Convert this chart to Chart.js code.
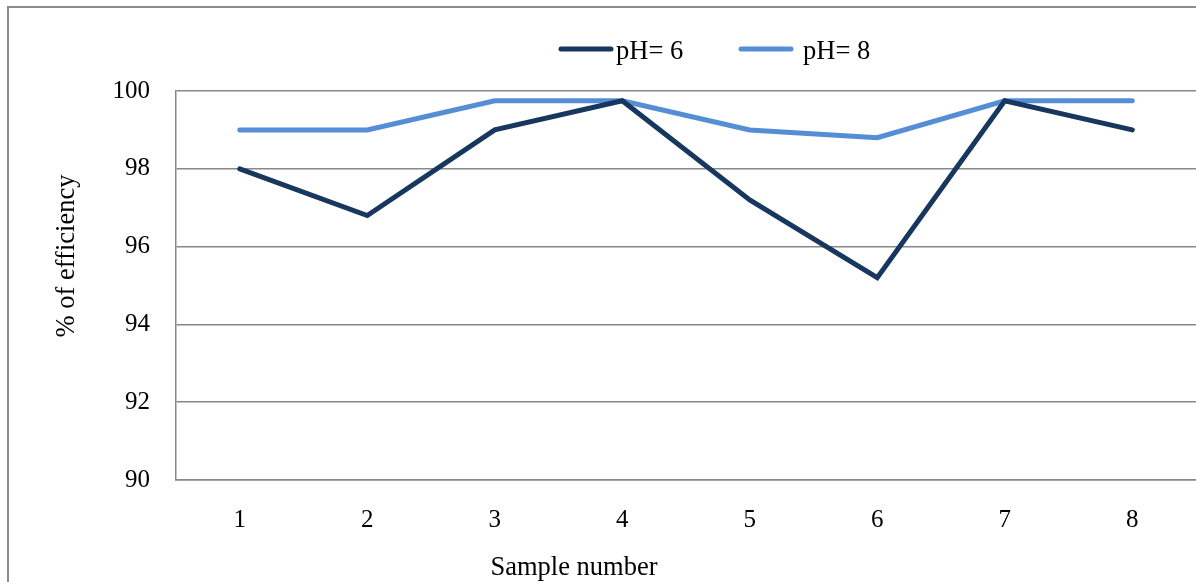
<!DOCTYPE html>
<html>
<head>
<meta charset="utf-8">
<script src="https://cdn.jsdelivr.net/npm/chart.js@4"></script>
<style>
    html, body { margin: 0; padding: 0; background: #fff; overflow: hidden; }
    #wrap { position: relative; width: 1196px; height: 582px; }
    #frame {
        position: absolute; left: 7px; top: 6px; width: 1400px; height: 800px;
        border: 2px solid #8c8c8c; box-sizing: border-box;
    }
    canvas { position: absolute; left: 0; top: 0; }
</style>
</head>
<body>
<div id="wrap">
    <div id="frame"></div>
    <canvas id="effChart" width="1196" height="582"></canvas>
</div>
<script>
const samples = ['1', '2', '3', '4', '5', '6', '7', '8'];
const ph6 = [98.0, 96.8, 99.0, 99.75, 97.2, 95.2, 99.75, 99.0];
const ph8 = [99.0, 99.0, 99.75, 99.75, 99.0, 98.8, 99.75, 99.75];
const yTicks = [90, 92, 94, 96, 98, 100];

const FONT = '"Liberation Serif", "Times New Roman", serif';
const GRID = '#888888';

// legend + axis titles drawn by hand so they sit where the original has them
const extras = {
    id: 'extras',
    afterDraw(chart) {
        const c = chart.ctx;
        c.save();
        c.font = '26.5px ' + FONT;
        c.fillStyle = '#000';
        c.textBaseline = 'alphabetic';

        // legend
        const items = [{ x: 561, tx: 616 }, { x: 741, tx: 803 }];
        chart.data.datasets.forEach((ds, i) => {
            const it = items[i];
            c.strokeStyle = ds.borderColor;
            c.lineWidth = 5;
            c.lineCap = 'round';
            c.beginPath();
            c.moveTo(it.x, 49);
            c.lineTo(it.x + 50, 49);
            c.stroke();
            c.textAlign = 'left';
            c.fillText(ds.label, it.tx, 59);
        });

        // x title
        c.textAlign = 'center';
        c.fillText('Sample number', 574, 575);

        // y title
        c.translate(74, 256);
        c.rotate(-Math.PI / 2);
        c.fillText('% of efficiency', 0, 0);
        c.restore();
    }
};

new Chart(document.getElementById('effChart').getContext('2d'), {
    type: 'line',
    data: {
        labels: samples,
        datasets: [{
            label: 'pH= 6',
            data: ph6,
            borderColor: '#17375e',
            borderWidth: 5,
            borderCapStyle: 'round',
            borderJoinStyle: 'miter',
            pointRadius: 0,
            tension: 0,
            fill: false
        }, {
            label: 'pH= 8',
            data: ph8,
            borderColor: '#558ed5',
            borderWidth: 5,
            borderCapStyle: 'round',
            borderJoinStyle: 'miter',
            pointRadius: 0,
            tension: 0,
            fill: false
        }]
    },
    options: {
        responsive: false,
        animation: false,
        layout: { padding: { top: 91, right: 0, bottom: 0, left: 0 } },
        scales: {
            x: {
                offset: true,
                grid: { display: false, drawTicks: false },
                border: { display: true, color: GRID, width: 1.5 },
                ticks: { color: '#000', font: { family: FONT, size: 25 }, padding: 25 },
                afterFit: (scale) => { scale.height = 102; }
            },
            y: {
                min: 90,
                max: 100,
                afterBuildTicks: (scale) => { scale.ticks = yTicks.map(v => ({ value: v })); },
                grid: { color: GRID, lineWidth: 1.5, drawTicks: false },
                border: { display: true, color: GRID, width: 1.5 },
                ticks: { color: '#000', font: { family: FONT, size: 25 }, padding: 26 },
                afterFit: (scale) => { scale.width = 176; }
            }
        },
        plugins: {
            legend: { display: false },
            tooltip: { enabled: false }
        }
    },
    plugins: [extras]
});
</script>
</body>
</html>
